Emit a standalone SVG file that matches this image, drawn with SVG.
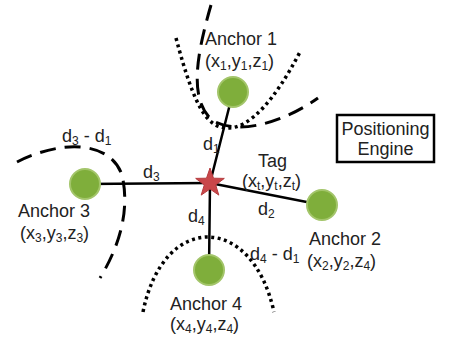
<svg xmlns="http://www.w3.org/2000/svg" width="449" height="340" viewBox="0 0 449 340">
<style>
text{font-family:"Liberation Sans",Arial,sans-serif;font-size:18px;fill:#222}
.sub{font-size:12px}
.ln{stroke:#000;stroke-width:2.5;fill:none;stroke-linecap:round}
.dot{stroke:#000;stroke-width:3.5;fill:none;stroke-dasharray:3 3.5}
.dash{stroke:#000;stroke-width:3;fill:none;stroke-dasharray:16 9}
.anc{fill:#7fae3b;stroke:#a3c56a;stroke-width:2}
</style>
<rect width="449" height="340" fill="#fff"/>
<g id="curves">
<path class="dot" d="M176,38 C195,110 208,128 228,128 C250,128 275,100 300,52"/>
<path class="dash" d="M211,5 C195,60 190,100 212,120 C235,135 280,125 318,98"/>
<path class="dash" d="M17,162 C60,140 110,140 122,175 C130,210 120,245 100,278"/>
<path class="dot" d="M143,312 C163,212 252,212 274,312"/>
</g>
<g id="connectors">
<line class="ln" x1="233" y1="92" x2="210" y2="183"/>
<line class="ln" x1="210" y1="183" x2="209" y2="270"/>
<line class="ln" x1="85" y1="184" x2="210" y2="183"/>
<line class="ln" x1="210" y1="183" x2="322" y2="205"/>
</g>
<g id="anchor1">
<circle class="anc" cx="233" cy="92" r="15"/>
<text x="205" y="45">Anchor 1</text>
<text x="205" y="67">(x<tspan class="sub" dy="3">1</tspan><tspan dy="-3">,y</tspan><tspan class="sub" dy="3">1</tspan><tspan dy="-3">,z</tspan><tspan class="sub" dy="3">1</tspan><tspan dy="-3">)</tspan></text>
</g>
<g id="anchor2">
<circle class="anc" cx="322" cy="205" r="15"/>
<text x="309" y="245">Anchor 2</text>
<text x="307" y="267">(x<tspan class="sub" dy="3">2</tspan><tspan dy="-3">,y</tspan><tspan class="sub" dy="3">2</tspan><tspan dy="-3">,z</tspan><tspan class="sub" dy="3">4</tspan><tspan dy="-3">)</tspan></text>
</g>
<g id="anchor3">
<circle class="anc" cx="85" cy="184" r="15"/>
<text x="18" y="217">Anchor 3</text>
<text x="20" y="239">(x<tspan class="sub" dy="3">3</tspan><tspan dy="-3">,y</tspan><tspan class="sub" dy="3">3</tspan><tspan dy="-3">,z</tspan><tspan class="sub" dy="3">3</tspan><tspan dy="-3">)</tspan></text>
</g>
<g id="anchor4">
<circle class="anc" cx="209" cy="270" r="15"/>
<text x="170" y="310">Anchor 4</text>
<text x="170" y="330">(x<tspan class="sub" dy="3">4</tspan><tspan dy="-3">,y</tspan><tspan class="sub" dy="3">4</tspan><tspan dy="-3">,z</tspan><tspan class="sub" dy="3">4</tspan><tspan dy="-3">)</tspan></text>
</g>
<g id="tag">
<polygon fill="#c9474a" stroke="#b53a3d" stroke-width="1" points="210,168 213.5,178.2 224.3,178.4 215.7,184.9 218.8,195.1 210,189 201.2,195.1 204.3,184.9 195.7,178.4 206.5,178.2"/>
<text x="258" y="167">Tag</text>
<text x="242" y="187">(x<tspan class="sub" dy="3">t</tspan><tspan dy="-3">,y</tspan><tspan class="sub" dy="3">t</tspan><tspan dy="-3">,z</tspan><tspan class="sub" dy="3">t</tspan><tspan dy="-3">)</tspan></text>
</g>
<g id="labels">
<text x="203" y="150">d<tspan class="sub" dy="3">1</tspan></text>
<text x="143" y="178">d<tspan class="sub" dy="3">3</tspan></text>
<text x="258" y="215">d<tspan class="sub" dy="3">2</tspan></text>
<text x="188" y="222">d<tspan class="sub" dy="3">4</tspan></text>
<text x="250" y="260">d<tspan class="sub" dy="3">4</tspan><tspan dy="-3"> - d</tspan><tspan class="sub" dy="3">1</tspan></text>
<text x="62" y="142">d<tspan class="sub" dy="3">3</tspan><tspan dy="-3"> - d</tspan><tspan class="sub" dy="3">1</tspan></text>
</g>
<g id="engine">
<rect x="337" y="115" width="97" height="47" fill="#fff" stroke="#000" stroke-width="2.5"/>
<text x="385.5" y="135" text-anchor="middle">Positioning</text>
<text x="385.5" y="155" text-anchor="middle">Engine</text>
</g>
</svg>
